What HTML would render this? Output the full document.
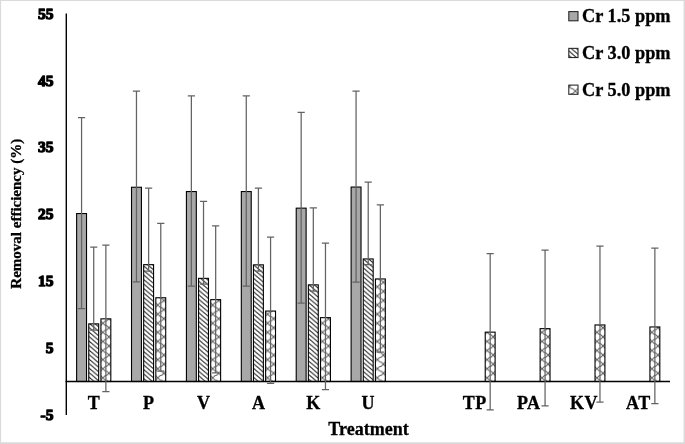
<!DOCTYPE html>
<html><head><meta charset="utf-8"><title>Chart</title>
<style>
html,body{margin:0;padding:0;background:#fff;}
body{width:685px;height:444px;overflow:hidden;position:relative;}
#frame{position:absolute;left:0;top:0;width:685px;height:444px;box-sizing:border-box;border-style:solid;border-color:#dcdcdc;border-width:1px 2px 2px 1px;}
svg{position:absolute;left:0;top:0;display:block;}
text{font-family:"Liberation Serif","Times New Roman",serif;font-weight:bold;fill:#000;}
.tick{font-size:15.5px;text-anchor:end;stroke:#000;stroke-width:1.3px;stroke-linejoin:round;}
.cat{font-size:18px;text-anchor:middle;stroke:#000;stroke-width:0.3px;}
.leg{font-size:18.3px;stroke:#000;stroke-width:0.3px;}
.ttl{font-size:18px;text-anchor:middle;stroke:#000;stroke-width:0.3px;}
.yttl{font-size:15px;text-anchor:middle;stroke:#000;stroke-width:0.3px;}
</style></head><body>
<svg width="685" height="444" viewBox="0 0 685 444">
<defs>
<pattern id="h3" width="5.3" height="4.5" patternUnits="userSpaceOnUse">
<rect width="5.3" height="4.5" fill="#fff"/>
<path d="M-1.000,-0.849 L6.300,5.349 M4.300,-0.849 L6.300,0.849 M-1.000,3.651 L1.000,5.349" stroke="#1a1a1a" stroke-width="1.0" fill="none"/>
</pattern>
<pattern id="h5" width="12" height="9.1" patternUnits="userSpaceOnUse">
<rect width="12" height="9.1" fill="#fff"/>
<path d="M0,4.55 L2.3,2.3 L3.7,2.25 L6,0 L8.3,2.25 L9.7,2.3 L12,4.55 L9.7,6.8 L8.3,6.85 L6,9.1 L3.7,6.85 L2.3,6.8 Z" stroke="#626262" stroke-width="1" fill="none"/>
</pattern>
</defs>
<rect width="685" height="444" fill="#fff"/>

<rect x="76.62" y="213.55" width="9.9" height="167.95" fill="#a8a8a8" stroke="#000" stroke-width="1.1"/>
<rect x="88.77" y="323.85" width="9.9" height="57.65" fill="url(#h3)" stroke="#000" stroke-width="1.1"/>
<g transform="translate(102.87,300.50)"><rect x="-1.95" y="18.35" width="9.9" height="62.65" fill="url(#h5)" stroke="#000" stroke-width="1.1"/></g>
<rect x="131.52" y="187.25" width="9.9" height="194.25" fill="#a8a8a8" stroke="#000" stroke-width="1.1"/>
<rect x="143.67" y="264.65" width="9.9" height="116.85" fill="url(#h3)" stroke="#000" stroke-width="1.1"/>
<g transform="translate(157.77,300.50)"><rect x="-1.95" y="-2.75" width="9.9" height="83.75" fill="url(#h5)" stroke="#000" stroke-width="1.1"/></g>
<rect x="186.42" y="191.55" width="9.9" height="189.95" fill="#a8a8a8" stroke="#000" stroke-width="1.1"/>
<rect x="198.57" y="278.35" width="9.9" height="103.15" fill="url(#h3)" stroke="#000" stroke-width="1.1"/>
<g transform="translate(212.67,300.50)"><rect x="-1.95" y="-0.85" width="9.9" height="81.85" fill="url(#h5)" stroke="#000" stroke-width="1.1"/></g>
<rect x="241.32" y="191.55" width="9.9" height="189.95" fill="#a8a8a8" stroke="#000" stroke-width="1.1"/>
<rect x="253.47" y="264.85" width="9.9" height="116.65" fill="url(#h3)" stroke="#000" stroke-width="1.1"/>
<g transform="translate(267.57,300.50)"><rect x="-1.95" y="10.55" width="9.9" height="70.45" fill="url(#h5)" stroke="#000" stroke-width="1.1"/></g>
<rect x="296.22" y="208.15" width="9.9" height="173.35" fill="#a8a8a8" stroke="#000" stroke-width="1.1"/>
<rect x="308.37" y="284.85" width="9.9" height="96.65" fill="url(#h3)" stroke="#000" stroke-width="1.1"/>
<g transform="translate(322.47,300.50)"><rect x="-1.95" y="17.15" width="9.9" height="63.85" fill="url(#h5)" stroke="#000" stroke-width="1.1"/></g>
<rect x="351.12" y="187.05" width="9.9" height="194.45" fill="#a8a8a8" stroke="#000" stroke-width="1.1"/>
<rect x="363.27" y="258.95" width="9.9" height="122.55" fill="url(#h3)" stroke="#000" stroke-width="1.1"/>
<g transform="translate(377.37,300.50)"><rect x="-1.95" y="-21.55" width="9.9" height="102.55" fill="url(#h5)" stroke="#000" stroke-width="1.1"/></g>
<g transform="translate(487.17,300.50)"><rect x="-1.95" y="31.65" width="9.9" height="49.35" fill="url(#h5)" stroke="#000" stroke-width="1.1"/></g>
<g transform="translate(542.07,300.50)"><rect x="-1.95" y="28.15" width="9.9" height="52.85" fill="url(#h5)" stroke="#000" stroke-width="1.1"/></g>
<g transform="translate(596.97,300.50)"><rect x="-1.95" y="24.45" width="9.9" height="56.55" fill="url(#h5)" stroke="#000" stroke-width="1.1"/></g>
<g transform="translate(651.87,300.50)"><rect x="-1.95" y="26.45" width="9.9" height="54.55" fill="url(#h5)" stroke="#000" stroke-width="1.1"/></g>
<line x1="66.3" y1="13.5" x2="66.3" y2="415" stroke="#000" stroke-width="1.4"/>
<line x1="65.6" y1="381.5" x2="670" y2="381.5" stroke="#000" stroke-width="1.4"/>
<path d="M81.57,117.7 V308.5 M77.97,117.7 H85.17 M77.97,308.5 H85.17" stroke="#636363" stroke-width="1.25" fill="none"/>
<path d="M93.72,247.2 V330.2 M90.12,247.2 H97.32 M90.12,330.2 H97.32" stroke="#636363" stroke-width="1.25" fill="none"/>
<path d="M105.87,245 V391.7 M102.27,245 H109.47 M102.27,391.7 H109.47" stroke="#636363" stroke-width="1.25" fill="none"/>
<path d="M136.47,91 V281.9 M132.87,91 H140.07 M132.87,281.9 H140.07" stroke="#636363" stroke-width="1.25" fill="none"/>
<path d="M148.62,188 V271.2 M145.02,188 H152.22 M145.02,271.2 H152.22" stroke="#636363" stroke-width="1.25" fill="none"/>
<path d="M160.77,223.4 V371 M157.17,223.4 H164.37 M157.17,371 H164.37" stroke="#636363" stroke-width="1.25" fill="none"/>
<path d="M191.37,95.8 V286 M187.77,95.8 H194.97 M187.77,286 H194.97" stroke="#636363" stroke-width="1.25" fill="none"/>
<path d="M203.52,201.4 V284.1 M199.92,201.4 H207.12 M199.92,284.1 H207.12" stroke="#636363" stroke-width="1.25" fill="none"/>
<path d="M215.67,225.8 V372.8 M212.07,225.8 H219.27 M212.07,372.8 H219.27" stroke="#636363" stroke-width="1.25" fill="none"/>
<path d="M246.27,95.9 V286 M242.67,95.9 H249.87 M242.67,286 H249.87" stroke="#636363" stroke-width="1.25" fill="none"/>
<path d="M258.42,188.1 V271 M254.82,188.1 H262.02 M254.82,271 H262.02" stroke="#636363" stroke-width="1.25" fill="none"/>
<path d="M270.57,237.1 V383.4 M266.97,237.1 H274.17 M266.97,383.4 H274.17" stroke="#636363" stroke-width="1.25" fill="none"/>
<path d="M301.17,112.4 V303 M297.57,112.4 H304.77 M297.57,303 H304.77" stroke="#636363" stroke-width="1.25" fill="none"/>
<path d="M313.32,207.9 V291 M309.72,207.9 H316.92 M309.72,291 H316.92" stroke="#636363" stroke-width="1.25" fill="none"/>
<path d="M325.47,243.2 V389.7 M321.87,243.2 H329.07 M321.87,389.7 H329.07" stroke="#636363" stroke-width="1.25" fill="none"/>
<path d="M356.07,91.2 V282 M352.47,91.2 H359.67 M352.47,282 H359.67" stroke="#636363" stroke-width="1.25" fill="none"/>
<path d="M368.22,182 V264.7 M364.62,182 H371.82 M364.62,264.7 H371.82" stroke="#636363" stroke-width="1.25" fill="none"/>
<path d="M380.37,204.9 V352 M376.77,204.9 H383.97 M376.77,352 H383.97" stroke="#636363" stroke-width="1.25" fill="none"/>
<path d="M490.17,253.6 V409.8 M486.57,253.6 H493.77 M486.57,409.8 H493.77" stroke="#636363" stroke-width="1.25" fill="none"/>
<path d="M545.07,250.2 V405.9 M541.47,250.2 H548.67 M541.47,405.9 H548.67" stroke="#636363" stroke-width="1.25" fill="none"/>
<path d="M599.97,246.2 V402.2 M596.37,246.2 H603.57 M596.37,402.2 H603.57" stroke="#636363" stroke-width="1.25" fill="none"/>
<path d="M654.87,248 V403.7 M651.27,248 H658.47 M651.27,403.7 H658.47" stroke="#636363" stroke-width="1.25" fill="none"/>
<text class="tick" x="53.5" y="18.70">55</text>
<text class="tick" x="53.5" y="85.58">45</text>
<text class="tick" x="53.5" y="152.45">35</text>
<text class="tick" x="53.5" y="219.32">25</text>
<text class="tick" x="53.5" y="286.20">15</text>
<text class="tick" x="53.5" y="353.07">5</text>
<text class="tick" x="53.5" y="419.95">-5</text>
<text class="cat" x="93.75" y="408.8">T</text>
<text class="cat" x="148.6" y="408.8">P</text>
<text class="cat" x="203.5" y="408.8">V</text>
<text class="cat" x="258.4" y="408.8">A</text>
<text class="cat" x="313.3" y="408.8">K</text>
<text class="cat" x="368.1" y="408.8">U</text>
<text class="cat" x="474.7" y="408.8" style="letter-spacing:0.5px">TP</text>
<text class="cat" x="528.8" y="408.8" style="letter-spacing:0.5px">PA</text>
<text class="cat" x="584.0" y="408.8" style="letter-spacing:0.5px">KV</text>
<text class="cat" x="638.4" y="408.8" style="letter-spacing:0.5px">AT</text>
<text class="ttl" x="368.5" y="434.9">Treatment</text>
<text class="yttl" transform="translate(21.0,213.7) rotate(-90)">Removal efficiency (%)</text>
<rect x="568.8" y="11.60" width="9.2" height="9.2" fill="#a8a8a8" stroke="#222" stroke-width="1.05"/>
<text class="leg" x="582" y="22.20">Cr 1.5 ppm</text>
<rect x="568.8" y="48.35" width="9.2" height="9.2" fill="url(#h3)" stroke="#222" stroke-width="1.05"/>
<text class="leg" x="582" y="58.95">Cr 3.0 ppm</text>
<g transform="translate(575.3,86.55)"><rect x="-6.50" y="-1.45" width="9.2" height="9.2" fill="url(#h5)" stroke="#222" stroke-width="1.05"/></g>
<text class="leg" x="582" y="95.70">Cr 5.0 ppm</text>
<path d="M0,0 H685 V444 H0 Z M1.1,1 V442.3 H683.6 V1 Z" fill="#dadada" fill-rule="evenodd"/>
</svg></body></html>
